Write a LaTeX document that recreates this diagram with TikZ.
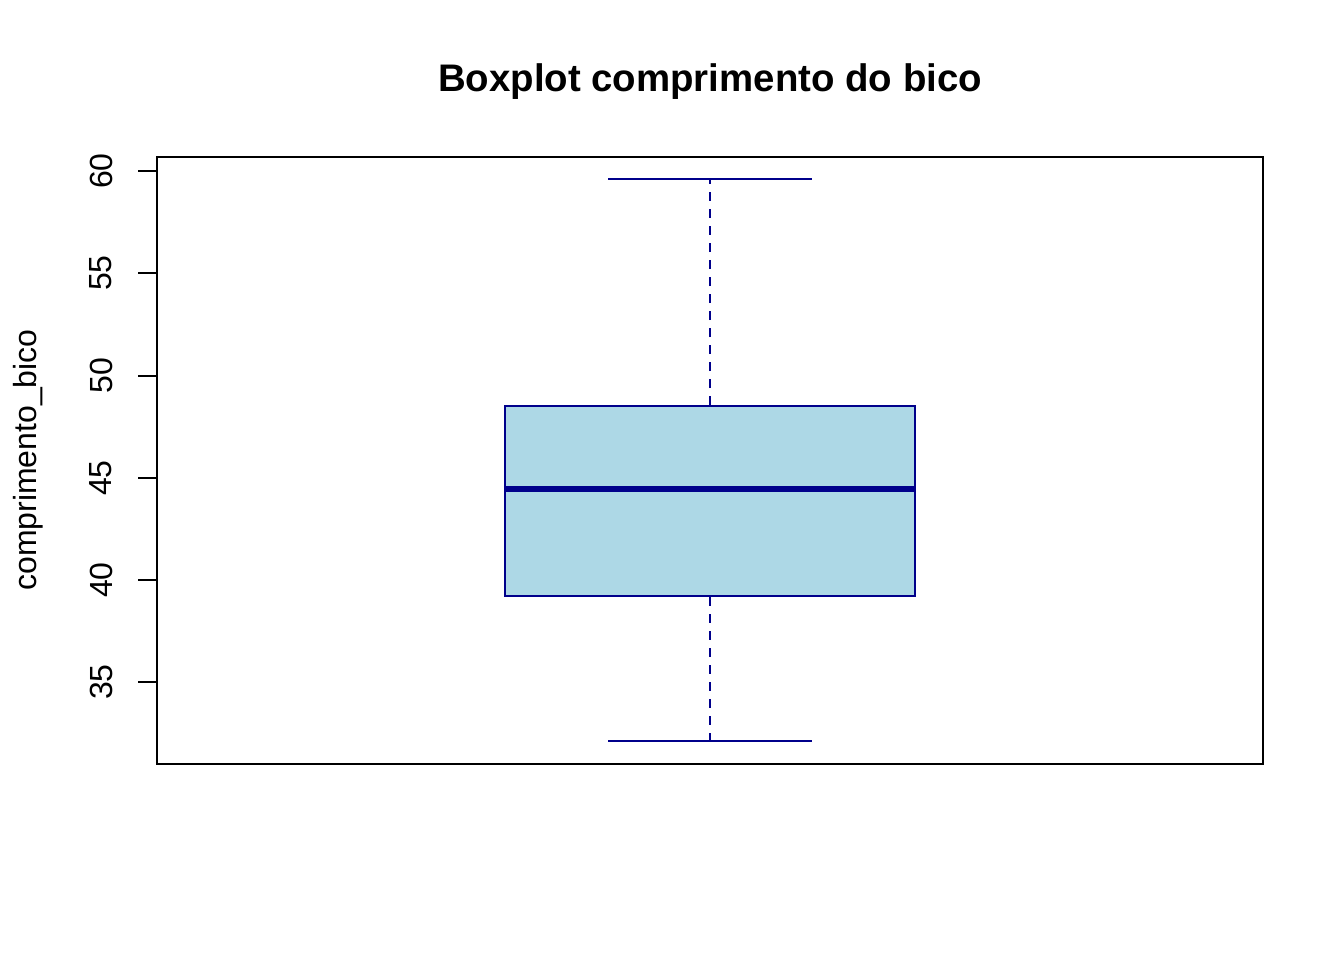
\documentclass[tikz,border=0pt]{standalone}
\usepackage{fontspec}
\setmainfont{Liberation Sans}
\usetikzlibrary{positioning}
\definecolor{boxfill}{HTML}{ADD8E6}
\definecolor{boxline}{HTML}{00008B}
\tikzset{
  ticklabel/.style={font=\fontsize{32}{38}\selectfont, rotate=90, inner sep=0pt},
  whisker/.style={boxline, line width=2pt},
  whiskerline/.style={boxline, line width=2pt, dash pattern=on 9pt off 8pt},
}
\begin{document}
\begin{tikzpicture}[x=1pt,y=-1pt]
\useasboundingbox (0,0) rectangle (1344,960);
\node[font=\bfseries\fontsize{38.4}{46}\selectfont, anchor=base, inner sep=0pt] (title) at (710,92) {Boxplot comprimento do bico};
\draw[line width=2pt] (157,157) rectangle (1263,764);
% y axis
\foreach \v/\py in {60/171,55/273,50/375.5,45/478,40/580,35/682}{
  \draw[line width=2pt] (138,\py) -- (157,\py);
  \node[ticklabel] (lab\v) at (101,\py) {\v};
}
\node[ticklabel, anchor=base] (ylab) at (36,460) {comprimento\_bico};
% box
\node[draw=boxline, fill=boxfill, line width=2pt, minimum width=410pt, minimum height=190pt, inner sep=0pt] (iqr) at (710,501) {};
\draw[boxline, line width=6pt] (iqr.west |- 0,489) -- (iqr.east |- 0,489);
\coordinate (hi) at (710,179);
\coordinate (lo) at (710,741);
\draw[whiskerline] (iqr.north) -- (hi);
\draw[whiskerline] (iqr.south) -- (lo);
\draw[whisker] ([xshift=-102pt]hi) -- ([xshift=102pt]hi);
\draw[whisker] ([xshift=-102pt]lo) -- ([xshift=102pt]lo);
\end{tikzpicture}
\end{document}
